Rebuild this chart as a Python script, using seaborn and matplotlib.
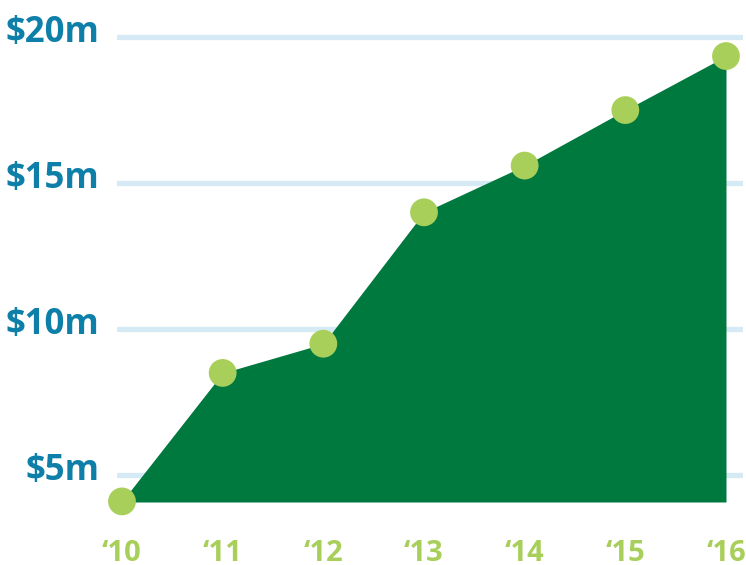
import matplotlib
matplotlib.use("Agg")
import matplotlib.pyplot as plt
import matplotlib.transforms as mtransforms
import seaborn as sns
import pandas as pd

years = ["‘10", "‘11", "‘12", "‘13", "‘14", "‘15", "‘16"]
revenue_m = [4.1, 8.5, 9.5, 14.0, 15.6, 17.5, 19.35]
y_ticks = [5, 10, 15, 20]
y_tick_labels = ["$5m", "$10m", "$15m", "$20m"]
baseline = 4.08

sns.set_style("white")
plt.rcParams["font.family"] = ["Open Sans", "DejaVu Sans"]

df = pd.DataFrame({"idx": range(len(years)), "year": years, "value": revenue_m})

fig = plt.figure(figsize=(7.46, 5.65), dpi=100)
ax = fig.add_axes([117 / 746, 63 / 565, 626 / 746, 502 / 565])

GRID = "#d5eaf5"
GREEN = "#00793f"
LIGHT = "#a8cf5a"
BLUE = "#0d7fa8"

for t in y_ticks:
    ax.axhline(t, color=GRID, lw=3.8, zorder=0)

ax.fill_between(df["idx"], df["value"], baseline, color=GREEN, lw=0, zorder=2)
sns.scatterplot(data=df, x="idx", y="value", ax=ax, color=LIGHT, s=400,
                edgecolor="none", zorder=3, clip_on=False, legend=False)

ax.set_xlim(-0.0497, 6.169)
ax.set_ylim(baseline, 21.27)
ax.set_xticks(df["idx"])
ax.set_xticklabels(years, color=LIGHT, fontsize=21, fontweight="bold")
ax.set_yticks([])
trans = mtransforms.blended_transform_factory(ax.transAxes, ax.transData) + \
    mtransforms.ScaledTranslation(-12.5 / 72, -3.5 / 72, fig.dpi_scale_trans)
for t, lab in zip(y_ticks, y_tick_labels):
    ax.text(0, t, lab, transform=trans, ha="right", va="baseline",
            color=BLUE, fontsize=25, fontweight="bold")
ax.tick_params(axis="x", length=0, pad=26.5)
ax.set_xlabel("")
ax.set_ylabel("")
for s in ax.spines.values():
    s.set_visible(False)
ax.grid(False)

fig.savefig("out.png", dpi=100)
